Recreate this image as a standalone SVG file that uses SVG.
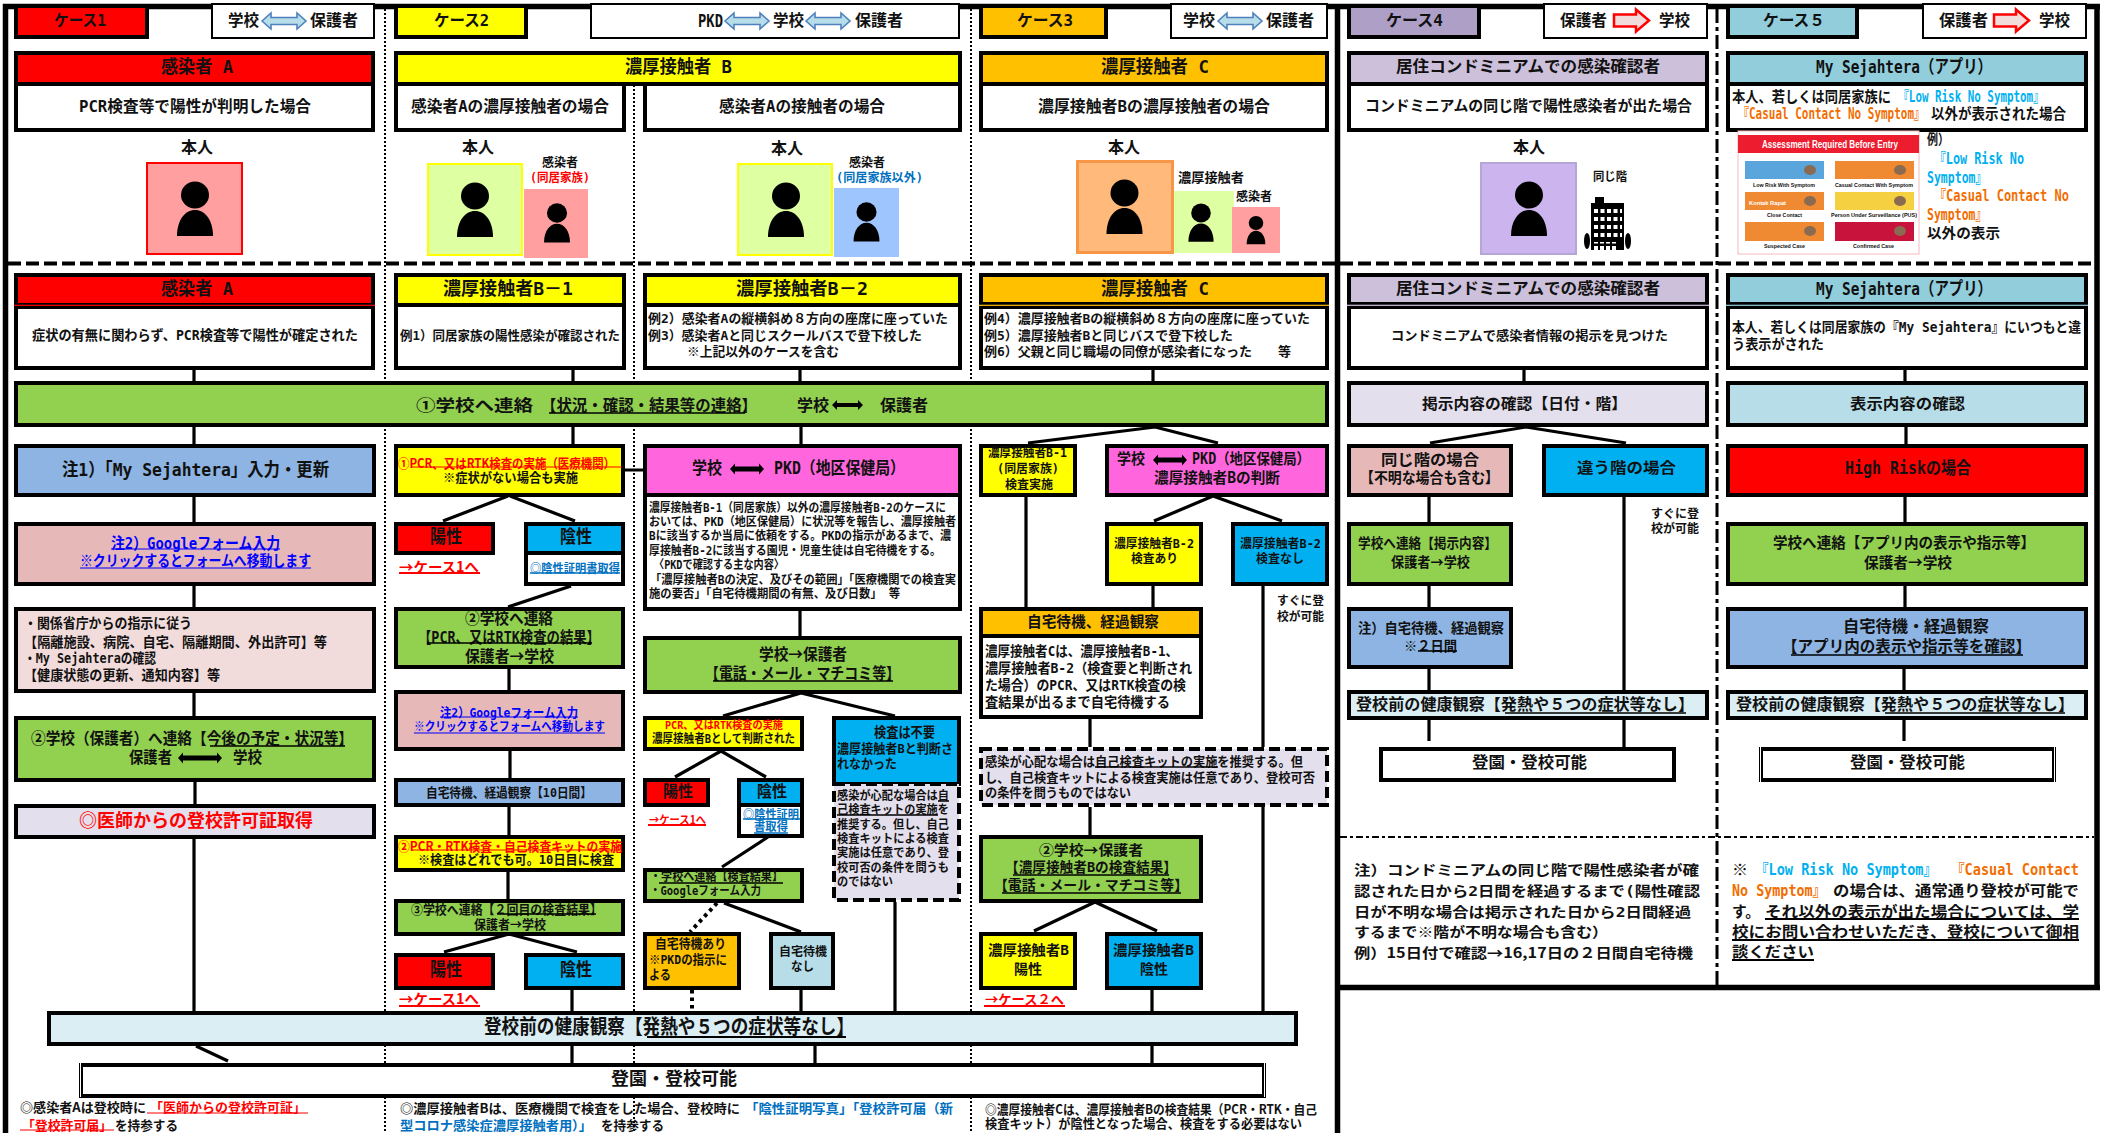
<svg xmlns="http://www.w3.org/2000/svg" width="2106" height="1133" viewBox="0 0 2106 1133">
<style>
text{font-family:"DejaVu Sans Mono","Noto Sans CJK JP",sans-serif;font-weight:700;fill:#111;dominant-baseline:central}
.j{font-family:"Noto Sans CJK JP",sans-serif}
.ls{font-family:"Liberation Sans",sans-serif}
.f10{font-size:10px}.f11{font-size:11px}.f12{font-size:12px}.f13{font-size:13px}.f14{font-size:14px}.f15{font-size:15px}.f16{font-size:16px}.f17{font-size:17px}.f18{font-size:18px}.f20{font-size:20px}.f6{font-size:6px}
.tr{fill:#f00}.tb{fill:#0070C0}.tc{fill:#00B0F0}.to{fill:#F26D00}.tl{fill:#00f}.tw{fill:#fff}
.b{stroke:#000;stroke-width:4}.n{stroke:#000;stroke-width:2;fill:#fff}
.dash{stroke:#000;stroke-width:4;stroke-dasharray:11 5}
.red{fill:#f00}.yel{fill:#ff0}.org{fill:#FFC000}.pur{fill:#CCC0DA}.cya{fill:#92CDDC}.grn{fill:#92D050}.blu{fill:#8DB4E2}.ros{fill:#E6B8B7}.pnk{fill:#F2DCDB}.lav{fill:#E4DFEC}.sky{fill:#00B0F0}.mag{fill:#FF66DD}.ltb{fill:#B7DEE8}.pal{fill:#DAEEF3}.wht{fill:#fff}.pd{fill:#AD9FC5}
.c{fill:none;stroke:#000;stroke-width:3.2}
.frame{fill:none;stroke:#000;stroke-width:5.5}
.dot{fill:none;stroke:#000;stroke-width:2;stroke-dasharray:2 2}
.hd{fill:none;stroke:#000;stroke-width:4;stroke-dasharray:13 5}
.dd{fill:none;stroke:#000;stroke-width:3;stroke-dasharray:14 4 4 4}
.dh{fill:none;stroke:#000;stroke-width:2;stroke-dasharray:7 3 3 3}
.tdot{fill:none;stroke:#000;stroke-width:4;stroke-dasharray:3.5 4}
.ul{fill:none;stroke:#000;stroke-width:1.5}.ur{fill:none;stroke:#f00;stroke-width:2}.ub{fill:none;stroke:#0070C0;stroke-width:1.6}.ui{fill:none;stroke:#00f;stroke-width:1.2}
.a1{fill:#B7DDE8;stroke:#4F81BD;stroke-width:1.6}.a2{fill:#F2DCDB;stroke:#f00;stroke-width:2.5}.a3{fill:#000}
</style>
<defs>
<g id="p"><ellipse cx="0" cy="0" rx="14" ry="13.5"/><path d="M-18,41C-18,25-10,15 0,15C10,15 18,25 18,41Z"/></g>
<path id="ab" d="M0,0l9,-8v4.5h26v-4.5l9,8l-9,8v-4.5h-26v4.5z"/>
<path id="ar" d="M0,-6H22V-11L35,0L22,11V6H0Z"/>
</defs>
<rect width="2106" height="1133" fill="#fff"/>
<g id="frame">
<path class="dot" d="M385 9V1133M634 85V1133M971 9V1133"/>
<path class="dd" d="M1717 9V985"/>
<path class="hd" d="M8 263.5H2094"/>
<path class="dh" d="M1340 837H2094"/>
<path class="frame" d="M3 6.5H2100M5.5 4V1133M2097 4V990M1337.5 4V1133M1335 987.5H2100"/>
</g>
<g id="connectors">
<path class="c" d="M194 369V381M573 369V381M800 369V381M1153 369V381M1524 369V381M1905 369V381"/>
<path class="c" d="M194 427V444M194 497V522M194 586V607M194 693V716M195 782V804M194 839V1012M196 1046L228 1061"/>
<path class="c" d="M573 427V444M625 470H644M508 496L443 521M510 496L575 521M571 586L508 607M509 669V690M510 751V778M509 807V835M508 872V899M509 934L444 952M509 934L577 952M572 990V1011M572 1046V1063"/>
<path class="c" d="M801 427V444M800 611V637M801 693L723 716M801 693L895 716M721 751L675 777M721 751L766 777M768 837L722 867M724 903L801 932M801 990V1011M895 902V1011M815 1046V1063"/>
<path class="tdot" d="M717 903L690 932M692 990V1011"/>
<path class="c" d="M1155 427L1028 443M1155 427L1218 443M1213 496L1154 521M1213 496L1282 521M1026 497V607M1153 586V607M1263 586V747M1090 719V747M1090 807V835M1263 803V1012M1095 902L1034 931M1095 902L1157 931M1152 985V1011M1152 1046V1063"/>
<path class="c" d="M1526 427L1430 443M1526 427L1626 443M1429 497V522M1624 497V690M1429 586V607M1429 669V690M1429 720V741M1624 720V747"/>
<path class="c" d="M1906 427V444M1905 497V522M1905 586V607M1904 669V690M1904 720V741"/>
</g>
<g id="case1">
<rect class="b red" x="16" y="6" width="131" height="31"/>
<text class="f16" x="54" y="20" textLength="52" lengthAdjust="spacingAndGlyphs">ケース1</text>
<rect class="n" x="212" y="4" width="162" height="34"/>
<text class="f16" x="228" y="20" textLength="31" lengthAdjust="spacingAndGlyphs">学校</text>
<use href="#ab" class="a1" x="262" y="21"/>
<text class="f16" x="310" y="20" textLength="48" lengthAdjust="spacingAndGlyphs">保護者</text>
<rect class="b red" x="16" y="53" width="357" height="31"/>
<rect class="b wht" x="16" y="84" width="357" height="46"/>
<text class="f18" x="161" y="66" textLength="72" lengthAdjust="spacingAndGlyphs">感染者 A</text>
<text class="f16" x="79" y="106" textLength="232" lengthAdjust="spacingAndGlyphs">PCR検査等で陽性が判明した場合</text>
<text class="f16" x="181" y="147" textLength="32" lengthAdjust="spacingAndGlyphs">本人</text>
<rect x="147" y="163" width="95" height="91" fill="#FF9F9F" stroke="#f00" stroke-width="2"/>
<use href="#p" x="195" y="195"/>
</g>
<g id="case1-flow">
<rect class="b red" x="16" y="275" width="357" height="30"/>
<rect class="b wht" x="16" y="307" width="357" height="61"/>
<rect class="red" x="14" y="304.7" width="361" height="1.2"/>
<text class="f18" x="161" y="288" textLength="72" lengthAdjust="spacingAndGlyphs">感染者 A</text>
<text class="f14" x="32" y="335" textLength="326" lengthAdjust="spacingAndGlyphs">症状の有無に関わらず、PCR検査等で陽性が確定された</text>
<rect class="b blu" x="16" y="446" width="358" height="49"/>
<text class="f18" x="62" y="469" textLength="267" lengthAdjust="spacingAndGlyphs">注1）「My Sejahtera」入力・更新</text>
<rect class="b ros" x="16" y="524" width="358" height="60"/>
<text class="f16 tl" x="111" y="543" textLength="169" lengthAdjust="spacingAndGlyphs">注2）Googleフォーム入力</text>
<text class="f15 tl" x="80" y="561" textLength="231" lengthAdjust="spacingAndGlyphs">※クリックするとフォームへ移動します</text>
<path class="ui" d="M111 549H280M80 568H311"/>
<rect class="b pnk" x="16" y="609" width="358" height="82"/>
<text class="f14" x="24" y="623" textLength="168" lengthAdjust="spacingAndGlyphs">・関係省庁からの指示に従う</text>
<text class="f14" x="24" y="642" textLength="303" lengthAdjust="spacingAndGlyphs">【隔離施設、病院、自宅、隔離期間、外出許可】等</text>
<text class="f14" x="24" y="658" textLength="132" lengthAdjust="spacingAndGlyphs">・My Sejahteraの確認</text>
<text class="f14" x="24" y="675" textLength="196" lengthAdjust="spacingAndGlyphs">【健康状態の更新、通知内容】等</text>
<rect class="b grn" x="16" y="718" width="358" height="62"/>
<text class="f16 j" x="31" y="737" textLength="322" lengthAdjust="spacingAndGlyphs">②学校（保護者）へ連絡【今後の予定・状況等】</text>
<path class="ul" d="M210 746H345"/>
<text class="f16" x="129" y="757" textLength="43" lengthAdjust="spacingAndGlyphs">保護者</text>
<path class="a3" d="M178 758l5,-5.5v3h34v-3l5,5.5l-5,5.5v-3h-34v3z"/>
<text class="f16" x="233" y="757" textLength="29" lengthAdjust="spacingAndGlyphs">学校</text>
<rect class="b lav" x="16" y="806" width="358" height="31"/>
<text class="f18 tr j" x="79" y="819" textLength="234" lengthAdjust="spacingAndGlyphs">◎医師からの登校許可証取得</text>
</g>
<g id="case2">
<rect class="b yel" x="396" y="6" width="130" height="31"/>
<text class="f16" x="434" y="20" textLength="55" lengthAdjust="spacingAndGlyphs">ケース2</text>
<rect class="n" x="591" y="4" width="368" height="34"/>
<text class="f18" x="698" y="20" textLength="25" lengthAdjust="spacingAndGlyphs">PKD</text>
<use href="#ab" class="a1" x="725" y="21"/>
<text class="f16" x="773" y="20" textLength="31" lengthAdjust="spacingAndGlyphs">学校</text>
<use href="#ab" class="a1" x="806" y="21"/>
<text class="f16" x="855" y="20" textLength="48" lengthAdjust="spacingAndGlyphs">保護者</text>
<rect class="b yel" x="396" y="53" width="564" height="31"/>
<rect class="b wht" x="396" y="84" width="228" height="46"/>
<rect class="b wht" x="645" y="84" width="315" height="46"/>
<text class="f18" x="625" y="66" textLength="107" lengthAdjust="spacingAndGlyphs">濃厚接触者 B</text>
<text class="f16" x="411" y="106" textLength="198" lengthAdjust="spacingAndGlyphs">感染者Aの濃厚接触者の場合</text>
<text class="f16" x="719" y="106" textLength="166" lengthAdjust="spacingAndGlyphs">感染者Aの接触者の場合</text>
<text class="f16" x="462" y="147" textLength="32" lengthAdjust="spacingAndGlyphs">本人</text>
<rect x="428" y="164" width="94" height="91" fill="#DFFFA3" stroke="#ff0" stroke-width="2"/>
<use href="#p" x="475" y="196"/>
<text class="f12" x="542" y="163" textLength="36" lengthAdjust="spacingAndGlyphs">感染者</text>
<text class="f12 tr" x="530" y="178" textLength="60" lengthAdjust="spacingAndGlyphs">(同居家族)</text>
<rect x="524" y="189" width="64" height="69" fill="#FF9F9F"/>
<use href="#p" transform="translate(557 213) scale(.72)"/>
<text class="f16" x="771" y="148" textLength="32" lengthAdjust="spacingAndGlyphs">本人</text>
<rect x="738" y="164" width="94" height="91" fill="#DFFFA3" stroke="#ff0" stroke-width="2"/>
<use href="#p" x="786" y="196"/>
<text class="f12" x="849" y="163" textLength="36" lengthAdjust="spacingAndGlyphs">感染者</text>
<text class="f12 tb" x="836" y="178" textLength="87" lengthAdjust="spacingAndGlyphs">(同居家族以外)</text>
<rect x="834" y="188" width="65" height="69" fill="#9FC5FF"/>
<use href="#p" transform="translate(866.5 212) scale(.72)"/>
</g>
<g id="case2-b1">
<rect class="b yel" x="396" y="275" width="228" height="30"/>
<rect class="b wht" x="396" y="305" width="228" height="63"/>
<text class="f18" x="443" y="288" textLength="130" lengthAdjust="spacingAndGlyphs">濃厚接触者B－1</text>
<text class="f13" x="400" y="335" textLength="220" lengthAdjust="spacingAndGlyphs">例1）同居家族の陽性感染が確認された</text>
<rect class="b yel" x="396" y="446" width="227" height="49"/>
<text class="f13 tr j" x="398" y="462" textLength="217" lengthAdjust="spacingAndGlyphs">①PCR、又はRTK検査の実施（医療機関）</text>
<path class="ur" style="stroke-width:1.2" d="M411 467H622"/>
<text class="f13" x="443" y="477" textLength="135" lengthAdjust="spacingAndGlyphs">※症状がない場合も実施</text>
<rect class="b red" x="396" y="524" width="97" height="29"/>
<text class="f18" x="430" y="536" textLength="32" lengthAdjust="spacingAndGlyphs">陽性</text>
<text class="f14 tr j" x="399" y="566" textLength="80" lengthAdjust="spacingAndGlyphs">→ケース1へ</text>
<path class="ur" d="M399 573H480"/>
<rect class="b wht" x="526" y="524" width="97" height="60"/>
<rect class="b sky" x="526" y="524" width="97" height="29"/>
<text class="f18" x="560" y="536" textLength="32" lengthAdjust="spacingAndGlyphs">陰性</text>
<text class="f12 tb j" x="530" y="567" textLength="90" lengthAdjust="spacingAndGlyphs">◎陰性証明書取得</text>
<path class="ub" d="M530 573H620"/>
<rect class="b grn" x="396" y="609" width="227" height="58"/>
<text class="f16 j" x="465" y="617" textLength="88" lengthAdjust="spacingAndGlyphs">②学校へ連絡</text>
<text class="f16" x="418" y="637" textLength="182" lengthAdjust="spacingAndGlyphs">【PCR、又はRTK検査の結果】</text>
<path class="ul" d="M427 643H592"/>
<text class="f16 j" x="465" y="655" textLength="89" lengthAdjust="spacingAndGlyphs">保護者→学校</text>
<rect class="b ros" x="396" y="692" width="227" height="57"/>
<text class="f13 tl" x="440" y="712" textLength="138" lengthAdjust="spacingAndGlyphs">注2）Googleフォーム入力</text>
<text class="f12 tl" x="414" y="727" textLength="191" lengthAdjust="spacingAndGlyphs">※クリックするとフォームへ移動します</text>
<path class="ui" d="M440 717H578M414 733H605"/>
<rect class="b blu" x="396" y="780" width="227" height="25"/>
<text class="f13" x="426" y="792" textLength="166" lengthAdjust="spacingAndGlyphs">自宅待機、経過観察【10日間】</text>
<rect class="b yel" x="396" y="837" width="227" height="33"/>
<text class="f13 tr j" x="398" y="845" textLength="224" lengthAdjust="spacingAndGlyphs">②PCR・RTK検査・自己検査キットの実施</text>
<path class="ur" style="stroke-width:1.2" d="M411 850H622"/>
<text class="f13" x="418" y="859" textLength="196" lengthAdjust="spacingAndGlyphs">※検査はどれでも可。10日目に検査</text>
<rect class="b grn" x="396" y="901" width="227" height="33"/>
<text class="f13 j" x="411" y="908" textLength="191" lengthAdjust="spacingAndGlyphs">③学校へ連絡【２回目の検査結果】</text>
<path class="ul" d="M497 914H596"/>
<text class="f13 j" x="474" y="923" textLength="72" lengthAdjust="spacingAndGlyphs">保護者→学校</text>
<rect class="b red" x="396" y="955" width="97" height="33"/>
<text class="f18" x="430" y="969" textLength="32" lengthAdjust="spacingAndGlyphs">陽性</text>
<text class="f14 tr j" x="399" y="998" textLength="80" lengthAdjust="spacingAndGlyphs">→ケース1へ</text>
<path class="ur" d="M399 1006H480"/>
<rect class="b sky" x="526" y="955" width="97" height="33"/>
<text class="f18" x="560" y="969" textLength="32" lengthAdjust="spacingAndGlyphs">陰性</text>
</g>
<g id="case2-b2">
<rect class="b yel" x="645" y="275" width="315" height="30"/>
<rect class="b wht" x="645" y="305" width="315" height="63"/>
<text class="f18" x="736" y="288" textLength="132" lengthAdjust="spacingAndGlyphs">濃厚接触者B－2</text>
<text class="f13" x="648" y="318" textLength="300" lengthAdjust="spacingAndGlyphs">例2）感染者Aの縦横斜め８方向の座席に座っていた</text>
<text class="f13" x="648" y="335" textLength="274" lengthAdjust="spacingAndGlyphs">例3）感染者Aと同じスクールバスで登下校した</text>
<text class="f13" x="687" y="351" textLength="152" lengthAdjust="spacingAndGlyphs">※上記以外のケースを含む</text>
<rect class="b wht" x="645" y="492" width="315" height="117"/>
<rect class="b mag" x="645" y="446" width="315" height="49"/>
<text class="f17" x="692" y="468" textLength="30" lengthAdjust="spacingAndGlyphs">学校</text>
<path class="a3" d="M730 469l5,-5.5v3h24v-3l5,5.5l-5,5.5v-3h-24v3z"/>
<text class="f17" x="774" y="468" textLength="131" lengthAdjust="spacingAndGlyphs">PKD（地区保健局）</text>
<text class="f12" x="649" y="508" textLength="297" lengthAdjust="spacingAndGlyphs">濃厚接触者B-1（同居家族）以外の濃厚接触者B-2のケースに</text>
<text class="f12" x="649" y="522" textLength="307" lengthAdjust="spacingAndGlyphs">おいては、PKD（地区保健局）に状況等を報告し、濃厚接触者</text>
<text class="f12" x="649" y="536" textLength="302" lengthAdjust="spacingAndGlyphs">Bに該当するか当局に依頼をする。PKDの指示があるまで、濃</text>
<text class="f12" x="649" y="551" textLength="292" lengthAdjust="spacingAndGlyphs">厚接触者B-2に該当する園児・児童生徒は自宅待機をする。</text>
<text class="f12" x="654" y="565" textLength="130" lengthAdjust="spacingAndGlyphs">〈PKDで確認する主な内容〉</text>
<text class="f12" x="650" y="580" textLength="306" lengthAdjust="spacingAndGlyphs">「濃厚接触者Bの決定、及びその範囲」「医療機関での検査実</text>
<text class="f12" x="649" y="594" textLength="251" lengthAdjust="spacingAndGlyphs">施の要否」「自宅待機期間の有無、及び日数」 等</text>
<rect class="b grn" x="645" y="638" width="315" height="54"/>
<text class="f16 j" x="759" y="653" textLength="88" lengthAdjust="spacingAndGlyphs">学校→保護者</text>
<text class="f16" x="705" y="673" textLength="195" lengthAdjust="spacingAndGlyphs">【電話・メール・マチコミ等】</text>
<path class="ul" d="M713 681H893"/>
<rect class="b yel" x="645" y="718" width="157" height="31"/>
<text class="f11 tr" x="665" y="725" textLength="118" lengthAdjust="spacingAndGlyphs">PCR、又はRTK検査の実施</text>
<text class="f12" x="652" y="739" textLength="143" lengthAdjust="spacingAndGlyphs">濃厚接触者Bとして判断された</text>
<rect class="b sky" x="834" y="718" width="125" height="66"/>
<text class="f14" x="874" y="732" textLength="61" lengthAdjust="spacingAndGlyphs">検査は不要</text>
<text class="f13" x="837" y="748" textLength="116" lengthAdjust="spacingAndGlyphs">濃厚接触者Bと判断さ</text>
<text class="f13" x="837" y="763" textLength="60" lengthAdjust="spacingAndGlyphs">れなかった</text>
<rect class="lav dash" x="834" y="784" width="125" height="116"/>
<text class="f12" x="837" y="796" textLength="112" lengthAdjust="spacingAndGlyphs">感染が心配な場合は自</text>
<text class="f12" x="837" y="810" textLength="112" lengthAdjust="spacingAndGlyphs">己検査キットの実施を</text>
<path class="ul" d="M938 801H949M837 815H938"/>
<text class="f12" x="837" y="825" textLength="112" lengthAdjust="spacingAndGlyphs">推奨する。但し、自己</text>
<text class="f12" x="837" y="839" textLength="112" lengthAdjust="spacingAndGlyphs">検査キットによる検査</text>
<text class="f12" x="837" y="853" textLength="112" lengthAdjust="spacingAndGlyphs">実施は任意であり、登</text>
<text class="f12" x="837" y="868" textLength="112" lengthAdjust="spacingAndGlyphs">校可否の条件を問うも</text>
<text class="f12" x="837" y="882" textLength="56" lengthAdjust="spacingAndGlyphs">のではない</text>
<rect class="b red" x="645" y="780" width="63" height="25"/>
<text class="f16" x="663" y="791" textLength="30" lengthAdjust="spacingAndGlyphs">陽性</text>
<text class="f11 tr j" x="649" y="819" textLength="57" lengthAdjust="spacingAndGlyphs">→ケース1へ</text>
<path class="ur" d="M648 825H706"/>
<rect class="b wht" x="739" y="780" width="63" height="56"/>
<rect class="b sky" x="739" y="780" width="63" height="25"/>
<text class="f16" x="757" y="791" textLength="30" lengthAdjust="spacingAndGlyphs">陰性</text>
<text class="f12 tb j" x="743" y="813" textLength="56" lengthAdjust="spacingAndGlyphs">◎陰性証明</text>
<text class="f12 tb" x="754" y="827" textLength="34" lengthAdjust="spacingAndGlyphs">書取得</text>
<path class="ub" d="M743 819H800M754 833H788"/>
<rect class="b grn" x="645" y="870" width="157" height="31"/>
<text class="f12" x="650" y="877" textLength="133" lengthAdjust="spacingAndGlyphs">・学校へ連絡【検査結果】</text>
<path class="ul" d="M659 883H783"/>
<text class="f12" x="650" y="891" textLength="111" lengthAdjust="spacingAndGlyphs">・Googleフォーム入力</text>
<rect class="b org" x="645" y="934" width="94" height="54"/>
<text class="f13" x="655" y="943" textLength="71" lengthAdjust="spacingAndGlyphs">自宅待機あり</text>
<text class="f13" x="649" y="959" textLength="78" lengthAdjust="spacingAndGlyphs">※PKDの指示に</text>
<text class="f13" x="649" y="974" textLength="22" lengthAdjust="spacingAndGlyphs">よる</text>
<rect class="b ltb" x="771" y="934" width="62" height="54"/>
<text class="f12" x="779" y="952" textLength="48" lengthAdjust="spacingAndGlyphs">自宅待機</text>
<text class="f12" x="791" y="967" textLength="23" lengthAdjust="spacingAndGlyphs">なし</text>
</g>
<g id="case3">
<rect class="b org" x="981" y="6" width="125" height="31"/>
<text class="f16" x="1017" y="20" textLength="56" lengthAdjust="spacingAndGlyphs">ケース3</text>
<rect class="n" x="1171" y="4" width="156" height="34"/>
<text class="f16" x="1183" y="20" textLength="32" lengthAdjust="spacingAndGlyphs">学校</text>
<use href="#ab" class="a1" x="1218" y="21"/>
<text class="f16" x="1266" y="20" textLength="48" lengthAdjust="spacingAndGlyphs">保護者</text>
<rect class="b org" x="981" y="53" width="346" height="31"/>
<rect class="b wht" x="981" y="84" width="346" height="46"/>
<text class="f18" x="1101" y="66" textLength="108" lengthAdjust="spacingAndGlyphs">濃厚接触者 C</text>
<text class="f16" x="1038" y="106" textLength="232" lengthAdjust="spacingAndGlyphs">濃厚接触者Bの濃厚接触者の場合</text>
<text class="f16" x="1108" y="147" textLength="32" lengthAdjust="spacingAndGlyphs">本人</text>
<rect x="1077.5" y="161.5" width="95" height="91" fill="#FFB97A" stroke="#F79646" stroke-width="3"/>
<use href="#p" x="1124.5" y="193"/>
<text class="f13" x="1178" y="177" textLength="66" lengthAdjust="spacingAndGlyphs">濃厚接触者</text>
<rect x="1174" y="191" width="60" height="62" fill="#DFFFA3"/>
<use href="#p" transform="translate(1201 213) scale(.7)"/>
<text class="f12" x="1236" y="197" textLength="36" lengthAdjust="spacingAndGlyphs">感染者</text>
<rect x="1232" y="207" width="48" height="46" fill="#FF9F9F"/>
<use href="#p" transform="translate(1256 223) scale(.52)"/>
</g>
<g id="case3-flow">
<rect class="b org" x="981" y="275" width="346" height="29"/>
<rect class="b wht" x="981" y="307" width="346" height="61"/>
<rect class="org" x="979" y="304.7" width="350" height="1.2"/>
<text class="f18" x="1101" y="288" textLength="108" lengthAdjust="spacingAndGlyphs">濃厚接触者 C</text>
<text class="f13" x="984" y="318" textLength="326" lengthAdjust="spacingAndGlyphs">例4）濃厚接触者Bの縦横斜め８方向の座席に座っていた</text>
<text class="f13" x="984" y="335" textLength="249" lengthAdjust="spacingAndGlyphs">例5）濃厚接触者Bと同じバスで登下校した</text>
<text class="f13" x="984" y="351" textLength="307" lengthAdjust="spacingAndGlyphs">例6）父親と同じ職場の同僚が感染者になった　　等</text>
<rect class="b yel" x="981" y="446" width="94" height="49"/>
<text class="f12" x="988" y="453" textLength="79" lengthAdjust="spacingAndGlyphs">濃厚接触者B-1</text>
<text class="f12" x="997" y="469" textLength="62" lengthAdjust="spacingAndGlyphs">(同居家族)</text>
<text class="f12" x="1005" y="485" textLength="48" lengthAdjust="spacingAndGlyphs">検査実施</text>
<rect class="b mag" x="1107" y="446" width="220" height="49"/>
<text class="f15" x="1117" y="459" textLength="28" lengthAdjust="spacingAndGlyphs">学校</text>
<path class="a3" d="M1153 460l5,-5.5v3h24v-3l5,5.5l-5,5.5v-3h-24v3z"/>
<text class="f15" x="1192" y="459" textLength="118" lengthAdjust="spacingAndGlyphs">PKD（地区保健局）</text>
<text class="f15" x="1154" y="478" textLength="126" lengthAdjust="spacingAndGlyphs">濃厚接触者Bの判断</text>
<rect class="b yel" x="1107" y="524" width="94" height="60"/>
<text class="f12" x="1114" y="544" textLength="80" lengthAdjust="spacingAndGlyphs">濃厚接触者B-2</text>
<text class="f12" x="1131" y="559" textLength="47" lengthAdjust="spacingAndGlyphs">検査あり</text>
<rect class="b sky" x="1233" y="524" width="94" height="60"/>
<text class="f12" x="1240" y="544" textLength="81" lengthAdjust="spacingAndGlyphs">濃厚接触者B-2</text>
<text class="f12" x="1256" y="559" textLength="48" lengthAdjust="spacingAndGlyphs">検査なし</text>
<text class="f12" x="1277" y="601" textLength="47" lengthAdjust="spacingAndGlyphs">すぐに登</text>
<text class="f12" x="1277" y="617" textLength="47" lengthAdjust="spacingAndGlyphs">校が可能</text>
<rect class="b wht" x="981" y="636" width="220" height="81"/>
<rect class="b org" x="981" y="609" width="220" height="27"/>
<text class="f15" x="1027" y="622" textLength="132" lengthAdjust="spacingAndGlyphs">自宅待機、経過観察</text>
<text class="f14" x="985" y="651" textLength="193" lengthAdjust="spacingAndGlyphs">濃厚接触者Cは、濃厚接触者B-1、</text>
<text class="f14" x="985" y="668" textLength="207" lengthAdjust="spacingAndGlyphs">濃厚接触者B-2（検査要と判断され</text>
<text class="f14" x="985" y="685" textLength="201" lengthAdjust="spacingAndGlyphs">た場合）のPCR、又はRTK検査の検</text>
<text class="f14" x="985" y="702" textLength="185" lengthAdjust="spacingAndGlyphs">査結果が出るまで自宅待機する</text>
<rect class="lav dash" x="981" y="749" width="346" height="56"/>
<text class="f13" x="985" y="761" textLength="318" lengthAdjust="spacingAndGlyphs">感染が心配な場合は自己検査キットの実施を推奨する。但</text>
<path class="ul" d="M1095 767H1218"/>
<text class="f13" x="985" y="777" textLength="330" lengthAdjust="spacingAndGlyphs">し、自己検査キットによる検査実施は任意であり、登校可否</text>
<text class="f13" x="985" y="792" textLength="146" lengthAdjust="spacingAndGlyphs">の条件を問うものではない</text>
<rect class="b grn" x="981" y="837" width="220" height="64"/>
<text class="f14 j" x="1039" y="849" textLength="104" lengthAdjust="spacingAndGlyphs">②学校→保護者</text>
<text class="f14" x="1005" y="867" textLength="172" lengthAdjust="spacingAndGlyphs">【濃厚接触者Bの検査結果】</text>
<path class="ul" d="M1013 875H1169"/>
<text class="f14" x="994" y="885" textLength="194" lengthAdjust="spacingAndGlyphs">【電話・メール・マチコミ等】</text>
<path class="ul" d="M1002 893H1181"/>
<rect class="b yel" x="981" y="934" width="94" height="54"/>
<text class="f14" x="988" y="950" textLength="81" lengthAdjust="spacingAndGlyphs">濃厚接触者B</text>
<text class="f14" x="1014" y="969" textLength="28" lengthAdjust="spacingAndGlyphs">陽性</text>
<text class="f13 tr j" x="985" y="998" textLength="79" lengthAdjust="spacingAndGlyphs">→ケース２へ</text>
<path class="ur" d="M984 1006H1065"/>
<rect class="b sky" x="1107" y="934" width="94" height="54"/>
<text class="f14" x="1113" y="950" textLength="81" lengthAdjust="spacingAndGlyphs">濃厚接触者B</text>
<text class="f14" x="1140" y="969" textLength="28" lengthAdjust="spacingAndGlyphs">陰性</text>
</g>
<g id="health-check">
<rect class="b pal" x="49" y="1013" width="1247" height="31"/>
<text class="f20" x="484" y="1027" textLength="370" lengthAdjust="spacingAndGlyphs">登校前の健康観察【発熱や５つの症状等なし】</text>
<path class="ul" style="stroke-width:2" d="M647 1037H846"/>
</g>
<g id="school-ok">
<rect class="b wht" x="81" y="1065" width="1183" height="31"/>
<path fill="none" stroke="#fff" stroke-width="1" d="M80.5 1063V1097M1264.5 1063V1097"/>
<text class="f18" x="611" y="1078" textLength="126" lengthAdjust="spacingAndGlyphs">登園・登校可能</text>
</g>
<g id="footnotes">
<text class="f13 j" x="20" y="1106"><tspan x="20" textLength="126" lengthAdjust="spacingAndGlyphs">◎感染者Aは登校時に</tspan><tspan class="tr" x="150" textLength="156" lengthAdjust="spacingAndGlyphs">「医師からの登校許可証」</tspan></text>
<path class="ur" style="stroke-width:1.2" d="M147 1113H308M20 1130H114"/>
<text class="f13 j" x="20" y="1124"><tspan class="tr" x="22" textLength="90" lengthAdjust="spacingAndGlyphs">「登校許可届」</tspan><tspan x="115" textLength="63" lengthAdjust="spacingAndGlyphs">を持参する</tspan></text>
<text class="f13 j" x="400" y="1107"><tspan x="400" textLength="340" lengthAdjust="spacingAndGlyphs">◎濃厚接触者Bは、医療機関で検査をした場合、登校時に</tspan><tspan class="tb" x="745" textLength="208" lengthAdjust="spacingAndGlyphs">「陰性証明写真」「登校許可届（新</tspan></text>
<text class="f13 j" x="400" y="1124"><tspan class="tb" x="400" textLength="192" lengthAdjust="spacingAndGlyphs">型コロナ感染症濃厚接触者用）」</tspan><tspan x="601" textLength="63" lengthAdjust="spacingAndGlyphs">を持参する</tspan></text>
<text class="f13 j" x="985" y="1108" textLength="332" lengthAdjust="spacingAndGlyphs">◎濃厚接触者Cは、濃厚接触者Bの検査結果（PCR・RTK・自己</text>
<text class="f13" x="985" y="1123" textLength="317" lengthAdjust="spacingAndGlyphs">検査キット）が陰性となった場合、検査をする必要はない</text>
</g>
<g id="case4">
<rect class="b pd" x="1349" y="6" width="130" height="31"/>
<text class="f16" x="1386" y="20" textLength="57" lengthAdjust="spacingAndGlyphs">ケース4</text>
<rect class="n" x="1544" y="4" width="163" height="34"/>
<text class="f16" x="1560" y="20" textLength="47" lengthAdjust="spacingAndGlyphs">保護者</text>
<use href="#ar" class="a2" x="1614" y="20.5"/>
<text class="f16" x="1659" y="20" textLength="31" lengthAdjust="spacingAndGlyphs">学校</text>
<rect class="b pur" x="1349" y="53" width="358" height="31"/>
<rect class="b wht" x="1349" y="84" width="358" height="46"/>
<text class="f16" x="1396" y="66" textLength="264" lengthAdjust="spacingAndGlyphs">居住コンドミニアムでの感染確認者</text>
<text class="f15" x="1365" y="106" textLength="327" lengthAdjust="spacingAndGlyphs">コンドミニアムの同じ階で陽性感染者が出た場合</text>
<text class="f16" x="1513" y="147" textLength="32" lengthAdjust="spacingAndGlyphs">本人</text>
<rect x="1481" y="163" width="95" height="91" fill="#CCB5EF" stroke="#B4A7D6" stroke-width="2"/>
<use href="#p" x="1529" y="195"/>
<text class="f12" x="1593" y="177" textLength="34" lengthAdjust="spacingAndGlyphs">同じ階</text>
<g id="building">
<rect x="1591" y="203" width="33" height="47"/><rect x="1595" y="197" width="9" height="7"/>
<path stroke="#fff" stroke-width="4" stroke-dasharray="4 2.5" d="M1594 211H1622M1594 219H1622M1594 227H1622M1594 235H1622M1596 250V242M1602 250V242M1608 250V242M1614 250V242"/>
<ellipse cx="1587" cy="241" rx="3" ry="8"/><ellipse cx="1628" cy="241" rx="3" ry="8"/>
</g>
</g>
<g id="case4-flow">
<rect class="b pur" x="1349" y="275" width="358" height="29"/>
<rect class="b wht" x="1349" y="307" width="358" height="61"/>
<rect class="pur" x="1347" y="304.7" width="362" height="1.2"/>
<text class="f16" x="1396" y="288" textLength="264" lengthAdjust="spacingAndGlyphs">居住コンドミニアムでの感染確認者</text>
<text class="f13" x="1391" y="335" textLength="277" lengthAdjust="spacingAndGlyphs">コンドミニアムで感染者情報の掲示を見つけた</text>
<rect class="b lav" x="1349" y="383" width="358" height="42"/>
<text class="f15" x="1422" y="404" textLength="205" lengthAdjust="spacingAndGlyphs">掲示内容の確認【日付・階】</text>
<rect class="b ros" x="1349" y="446" width="162" height="49"/>
<text class="f15" x="1381" y="460" textLength="98" lengthAdjust="spacingAndGlyphs">同じ階の場合</text>
<text class="f15" x="1360" y="478" textLength="139" lengthAdjust="spacingAndGlyphs">【不明な場合も含む】</text>
<rect class="b sky" x="1544" y="446" width="163" height="49"/>
<text class="f15" x="1577" y="468" textLength="99" lengthAdjust="spacingAndGlyphs">違う階の場合</text>
<text class="f12" x="1651" y="514" textLength="48" lengthAdjust="spacingAndGlyphs">すぐに登</text>
<text class="f12" x="1651" y="529" textLength="48" lengthAdjust="spacingAndGlyphs">校が可能</text>
<rect class="b grn" x="1349" y="524" width="162" height="60"/>
<text class="f14" x="1358" y="543" textLength="139" lengthAdjust="spacingAndGlyphs">学校へ連絡【掲示内容】</text>
<text class="f14 j" x="1391" y="561" textLength="79" lengthAdjust="spacingAndGlyphs">保護者→学校</text>
<rect class="b blu" x="1349" y="609" width="162" height="58"/>
<text class="f14" x="1358" y="628" textLength="146" lengthAdjust="spacingAndGlyphs">注）自宅待機、経過観察</text>
<text class="f14" x="1404" y="646" textLength="53" lengthAdjust="spacingAndGlyphs">※２日間</text>
<path class="ul" d="M1418 651H1457"/>
<rect class="b pal" x="1349" y="692" width="358" height="26"/>
<text class="f16" x="1356" y="704" textLength="338" lengthAdjust="spacingAndGlyphs">登校前の健康観察【発熱や５つの症状等なし】</text>
<path class="ul" d="M1505 713H1686"/>
<rect class="b wht" x="1381" y="749" width="293" height="31"/>
<text class="f16" x="1472" y="762" textLength="115" lengthAdjust="spacingAndGlyphs">登園・登校可能</text>
<text class="f14" x="1354" y="870" textLength="345" lengthAdjust="spacingAndGlyphs">注）コンドミニアムの同じ階で陽性感染者が確</text>
<text class="f14" x="1354" y="891" textLength="346" lengthAdjust="spacingAndGlyphs">認された日から2日間を経過するまで(陽性確認</text>
<text class="f14" x="1354" y="912" textLength="337" lengthAdjust="spacingAndGlyphs">日が不明な場合は掲示された日から2日間経過</text>
<text class="f14" x="1354" y="932" textLength="254" lengthAdjust="spacingAndGlyphs">するまで※階が不明な場合も含む）</text>
<text class="f14 j" x="1354" y="952" textLength="339" lengthAdjust="spacingAndGlyphs">例）15日付で確認→16,17日の２日間自宅待機</text>
</g>
<g id="case5">
<rect class="b cya" x="1728" y="6" width="129" height="31"/>
<text class="f16" x="1763" y="20" textLength="62" lengthAdjust="spacingAndGlyphs">ケース５</text>
<rect class="n" x="1923" y="4" width="163" height="34"/>
<text class="f16" x="1939" y="20" textLength="49" lengthAdjust="spacingAndGlyphs">保護者</text>
<use href="#ar" class="a2" x="1994" y="20.5"/>
<text class="f16" x="2039" y="20" textLength="31" lengthAdjust="spacingAndGlyphs">学校</text>
<rect class="b cya" x="1728" y="53" width="358" height="31"/>
<rect class="b wht" x="1728" y="84" width="358" height="46"/>
<text class="f18" x="1816" y="66" textLength="176" lengthAdjust="spacingAndGlyphs">My Sejahtera（アプリ）</text>
<text class="f15" x="1732" y="97"><tspan x="1732" textLength="159" lengthAdjust="spacingAndGlyphs">本人、若しくは同居家族に</tspan><tspan class="tc" x="1898" textLength="146" lengthAdjust="spacingAndGlyphs">『Low Risk No Symptom』</tspan></text>
<text class="f15" x="1738" y="114"><tspan class="to" x="1738" textLength="187" lengthAdjust="spacingAndGlyphs">『Casual Contact No Symptom』</tspan><tspan x="1931" textLength="135" lengthAdjust="spacingAndGlyphs">以外が表示された場合</tspan></text>
<g id="app-image">
<rect x="1738" y="131" width="181" height="123" fill="#fff" stroke="#F6B8BE" stroke-width="1"/>
<rect x="1738" y="135" width="181" height="18" fill="#ED1C2E"/>
<text class="f10 tw ls" x="1762" y="144" textLength="136" lengthAdjust="spacingAndGlyphs">Assessment Required Before Entry</text>
<rect x="1745" y="161" width="79" height="18" fill="#5AA5DC"/>
<rect x="1835" y="161" width="79" height="18" fill="#F08A32"/>
<rect x="1745" y="192" width="79" height="18" fill="#F08A32"/>
<rect x="1835" y="192" width="79" height="18" fill="#F5D040"/>
<rect x="1745" y="222" width="79" height="19" fill="#F08A32"/>
<rect x="1835" y="222" width="79" height="19" fill="#C8143C"/>
<g fill="#8a6a50"><ellipse cx="1810" cy="170" rx="6" ry="5"/><ellipse cx="1900" cy="170" rx="6" ry="5"/><ellipse cx="1810" cy="201" rx="6" ry="5"/><ellipse cx="1900" cy="201" rx="6" ry="5"/><ellipse cx="1810" cy="231" rx="6" ry="5"/><ellipse cx="1900" cy="231" rx="6" ry="5"/></g>
<text class="f6 tw ls" x="1749" y="203" textLength="37" lengthAdjust="spacingAndGlyphs">Kontak Rapat</text>
<text class="f6 ls" x="1753" y="184.5" textLength="62" lengthAdjust="spacingAndGlyphs">Low Risk With Symptom</text>
<text class="f6 ls" x="1835" y="184.5" textLength="78" lengthAdjust="spacingAndGlyphs">Casual Contact With Symptom</text>
<text class="f6 ls" x="1767" y="215" textLength="35" lengthAdjust="spacingAndGlyphs">Close Contact</text>
<text class="f6 ls" x="1831" y="215" textLength="86" lengthAdjust="spacingAndGlyphs">Person Under Surveillance (PUS)</text>
<text class="f6 ls" x="1764" y="246" textLength="41" lengthAdjust="spacingAndGlyphs">Suspected Case</text>
<text class="f6 ls" x="1853" y="246" textLength="41" lengthAdjust="spacingAndGlyphs">Confirmed Case</text>
</g>
<text class="f14" x="1927" y="139" textLength="22" lengthAdjust="spacingAndGlyphs">例）</text>
<text class="f15 tc" x="1934" y="159" textLength="90" lengthAdjust="spacingAndGlyphs">『Low Risk No</text>
<text class="f15 tc" x="1927" y="178" textLength="60" lengthAdjust="spacingAndGlyphs">Symptom』</text>
<text class="f15 to" x="1934" y="196" textLength="135" lengthAdjust="spacingAndGlyphs">『Casual Contact No</text>
<text class="f15 to" x="1927" y="215" textLength="60" lengthAdjust="spacingAndGlyphs">Symptom』</text>
<text class="f14" x="1927" y="233" textLength="73" lengthAdjust="spacingAndGlyphs">以外の表示</text>
</g>
<g id="case5-flow">
<rect class="b cya" x="1728" y="275" width="358" height="29"/>
<rect class="b wht" x="1728" y="307" width="358" height="61"/>
<rect class="cya" x="1726" y="304.7" width="362" height="1.2"/>
<text class="f18" x="1816" y="288" textLength="176" lengthAdjust="spacingAndGlyphs">My Sejahtera（アプリ）</text>
<text class="f14" x="1732" y="327" textLength="349" lengthAdjust="spacingAndGlyphs">本人、若しくは同居家族の『My Sejahtera』にいつもと違</text>
<text class="f14" x="1732" y="344" textLength="92" lengthAdjust="spacingAndGlyphs">う表示がされた</text>
<rect class="b ltb" x="1728" y="383" width="358" height="42"/>
<text class="f15" x="1850" y="404" textLength="115" lengthAdjust="spacingAndGlyphs">表示内容の確認</text>
<rect class="b red" x="1728" y="446" width="358" height="49"/>
<text class="f17" x="1845" y="468" textLength="126" lengthAdjust="spacingAndGlyphs">High Riskの場合</text>
<rect class="b grn" x="1728" y="524" width="358" height="60"/>
<text class="f15" x="1773" y="543" textLength="262" lengthAdjust="spacingAndGlyphs">学校へ連絡【アプリ内の表示や指示等】</text>
<text class="f15 j" x="1864" y="561" textLength="88" lengthAdjust="spacingAndGlyphs">保護者→学校</text>
<rect class="b blu" x="1728" y="609" width="358" height="58"/>
<text class="f16" x="1843" y="626" textLength="146" lengthAdjust="spacingAndGlyphs">自宅待機・経過観察</text>
<text class="f16" x="1782" y="646" textLength="249" lengthAdjust="spacingAndGlyphs">【アプリ内の表示や指示等を確認】</text>
<path class="ul" d="M1791 655H2023"/>
<rect class="b pal" x="1728" y="692" width="358" height="26"/>
<text class="f16" x="1736" y="704" textLength="338" lengthAdjust="spacingAndGlyphs">登校前の健康観察【発熱や５つの症状等なし】</text>
<path class="ul" d="M1885 713H2065"/>
<rect class="b wht" x="1761" y="749" width="293" height="31"/>
<path fill="none" stroke="#fff" stroke-width="1" d="M1760.5 747V782M2054.500 747V782"/>
<text class="f16" x="1850" y="762" textLength="115" lengthAdjust="spacingAndGlyphs">登園・登校可能</text>
<text class="f15" x="1732" y="870"><tspan x="1732" textLength="16" lengthAdjust="spacingAndGlyphs">※</tspan><tspan class="tc" x="1755" textLength="182" lengthAdjust="spacingAndGlyphs">『Low Risk No Symptom』</tspan><tspan class="to" x="1951" textLength="128" lengthAdjust="spacingAndGlyphs">『Casual Contact</tspan></text>
<text class="f15" x="1732" y="891"><tspan class="to" x="1732" textLength="94" lengthAdjust="spacingAndGlyphs">No Symptom』</tspan><tspan x="1833" textLength="246" lengthAdjust="spacingAndGlyphs">の場合は、通常通り登校が可能で</tspan></text>
<text class="f15" x="1732" y="912"><tspan x="1732" textLength="28" lengthAdjust="spacingAndGlyphs">す。</tspan><tspan x="1765" textLength="314" lengthAdjust="spacingAndGlyphs">それ以外の表示が出た場合については、学</tspan></text>
<text class="f15" x="1732" y="932" textLength="347" lengthAdjust="spacingAndGlyphs">校にお問い合わせいただき、登校について御相</text>
<text class="f15" x="1732" y="952" textLength="82" lengthAdjust="spacingAndGlyphs">談ください</text>
<path class="ul" style="stroke-width:2" d="M1765 919H2079M1732 940H2079M1732 960H1814"/>
</g>
<g id="contact-bar">
<rect class="b grn" x="16" y="383" width="1311" height="42"/>
<text class="f16 j" x="416" y="404"><tspan x="416" textLength="117" lengthAdjust="spacingAndGlyphs">①学校へ連絡</tspan><tspan x="541" textLength="216" lengthAdjust="spacingAndGlyphs">【状況・確認・結果等の連絡】</tspan><tspan x="797" textLength="32" lengthAdjust="spacingAndGlyphs">学校</tspan><tspan x="880" textLength="48" lengthAdjust="spacingAndGlyphs">保護者</tspan></text>
<path class="ul" d="M549 413H745"/>
<path class="a3" d="M832 405l5,-5v3h21v-3l5,5l-5,5v-3h-21v3z"/>
</g>
</svg>
